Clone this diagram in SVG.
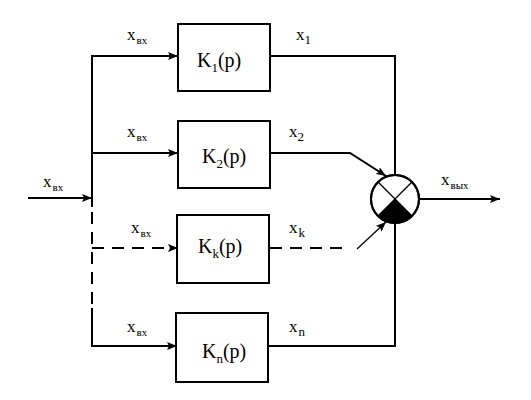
<svg xmlns="http://www.w3.org/2000/svg" width="531" height="400" viewBox="0 0 531 400">
<style>
.ln{stroke:#000;stroke-width:2;fill:none}
.dl{stroke:#000;stroke-width:2;fill:none;stroke-dasharray:12,8}
.th{stroke:#000;stroke-width:1.3;fill:none}
.box{stroke:#000;stroke-width:2;fill:#fff}
text{font-family:"Liberation Serif","Times New Roman",serif;fill:#000}
.lb{font-size:17px}
.sb{font-size:11px}
.bk{font-size:20px}
.bs{font-size:13px}
</style>
<defs>
<marker id="ar" viewBox="0 0 10 8" refX="10" refY="4" markerWidth="10" markerHeight="8" markerUnits="userSpaceOnUse" orient="auto">
<path d="M0,0 L10,4 L0,8 L2,4 Z" fill="#000"/>
</marker>
</defs>
<rect width="531" height="400" fill="#fff"/>
<g id="connectors">
<line class="ln" x1="28" y1="198" x2="92" y2="198" marker-end="url(#ar)"/>
<polyline class="ln" points="92,207 92,56 178,56" marker-end="url(#ar)"/>
<line class="ln" x1="92" y1="153" x2="178" y2="153" marker-end="url(#ar)"/>
<line class="dl" x1="92" y1="212" x2="92" y2="308"/>
<polyline class="ln" points="92,308 92,346 177,346" marker-end="url(#ar)"/>
<line class="dl" x1="92" y1="248" x2="178" y2="248" marker-end="url(#ar)"/>
<polyline class="ln" points="270,56 395,56 395,175"/>
<polyline class="ln" points="270,153 350,153 386,176" marker-end="url(#ar)"/>
<line class="dl" x1="270" y1="248" x2="350" y2="248"/>
<line class="th" x1="357" y1="249" x2="386" y2="222" marker-end="url(#ar)"/>
<polyline class="ln" points="268,346 395,346 395,223"/>
<line class="ln" x1="419" y1="199" x2="500" y2="199" marker-end="url(#ar)"/>
</g>
<g id="sum">
<circle cx="395" cy="199" r="24" fill="#fff" stroke="#000" stroke-width="2"/>
<path d="M395,199 L411.97,215.97 A24,24 0 0 1 378.03,215.97 Z" fill="#000"/>
<line class="th" x1="378.03" y1="182.03" x2="411.97" y2="215.97"/>
<line class="th" x1="411.97" y1="182.03" x2="378.03" y2="215.97"/>
<circle cx="395" cy="199" r="24" fill="none" stroke="#000" stroke-width="2"/>
</g>
<g id="box1">
<rect class="box" x="178" y="24" width="92" height="67"/>
<text class="bk" x="197" y="67">K<tspan class="bs" dy="5">1</tspan><tspan dy="-5">(p)</tspan></text>
</g>
<g id="box2">
<rect class="box" x="178" y="121" width="92" height="67"/>
<text class="bk" x="202" y="163">K<tspan class="bs" dy="5">2</tspan><tspan dy="-5">(p)</tspan></text>
</g>
<g id="boxk">
<rect class="box" x="177" y="215" width="92" height="68"/>
<text class="bk" x="198" y="253">K<tspan class="bs" dy="5">k</tspan><tspan dy="-5">(p)</tspan></text>
</g>
<g id="boxn">
<rect class="box" x="176" y="313" width="92" height="69"/>
<text class="bk" x="202" y="358">K<tspan class="bs" dy="5">n</tspan><tspan dy="-5">(p)</tspan></text>
</g>
<g id="labels">
<text class="lb" x="43" y="187">x<tspan class="sb" dx="1" dy="4">вх</tspan></text>
<text class="lb" x="127" y="40">x<tspan class="sb" dx="1" dy="4">вх</tspan></text>
<text class="lb" x="127" y="137">x<tspan class="sb" dx="1" dy="4">вх</tspan></text>
<text class="lb" x="131" y="233">x<tspan class="sb" dx="1" dy="4">вх</tspan></text>
<text class="lb" x="127" y="332">x<tspan class="sb" dx="1" dy="4">вх</tspan></text>
<text class="lb" x="296" y="40">x<tspan class="bs" dy="4">1</tspan></text>
<text class="lb" x="289" y="137">x<tspan class="bs" dy="4">2</tspan></text>
<text class="lb" x="289" y="233">x<tspan class="bs" dx="1" dy="4">k</tspan></text>
<text class="lb" x="289" y="332">x<tspan class="bs" dx="1" dy="4">n</tspan></text>
<text class="lb" x="441" y="185">x<tspan class="sb" dx="1" dy="4">вых</tspan></text>
</g>
</svg>
